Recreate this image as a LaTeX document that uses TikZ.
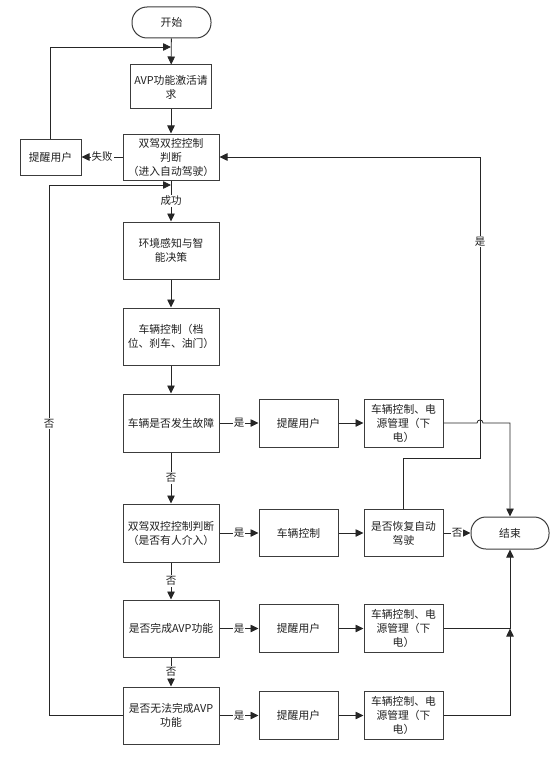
\documentclass[tikz,border=0pt]{standalone}
\usepackage{fontspec}
\setmainfont{Noto Sans CJK SC}
\usetikzlibrary{arrows.meta}
\definecolor{ln}{HTML}{262626}
\definecolor{tx}{HTML}{202020}
\tikzset{
  box/.style={draw=ln!90, line width=1pt, inner sep=1pt, align=center, text=tx,
    font=\fontsize{10.8}{14}\selectfont},
  term/.style={box, rounded corners=15pt},
  arr/.style={draw=ln, line width=0.8pt, -{Triangle[length=8pt,width=7.5pt]}},
  lab/.style={fill=white, inner sep=1pt, text=tx, font=\fontsize{10.5}{12}\selectfont}
}
\begin{document}
\begin{tikzpicture}[x=1pt,y=-1pt]
\useasboundingbox (0,0) rectangle (558,757);
% main column
\node[term, minimum width=79pt, minimum height=31pt] (start) at (171.5,22.5) {开始};
\node[box, minimum width=81pt, minimum height=44pt] (avp) at (171,87) {AVP功能激活请\\求};
\node[box, minimum width=96pt, minimum height=46pt] (judge) at (171,157) {双驾双控控制\\判断\\（进入自动驾驶）};
\node[box, minimum width=61pt, minimum height=36pt] (rem0) at (50.5,157) {提醒用户};
\node[box, minimum width=96pt, minimum height=57pt] (env) at (171,250.5) {环境感知与智\\能决策};
\node[box, minimum width=96pt, minimum height=57pt] (vc) at (171,336.5) {车辆控制（档\\位、刹车、油门）};
\node[box, minimum width=96pt, minimum height=58pt] (q1) at (171,423) {车辆是否发生故障};
\node[box, minimum width=96pt, minimum height=58pt] (q2) at (171,533) {双驾双控控制判断\\（是否有人介入）};
\node[box, minimum width=96pt, minimum height=57pt] (q3) at (171,628.5) {是否完成AVP功能};
\node[box, minimum width=96pt, minimum height=57pt] (q4) at (171,715.5) {是否无法完成AVP\\功能};
% second column
\node[box, minimum width=79pt, minimum height=48pt] (r1) at (298.5,423) {提醒用户};
\node[box, minimum width=79pt, minimum height=47pt] (r2) at (298.5,533) {车辆控制};
\node[box, minimum width=79pt, minimum height=48pt] (r3) at (298.5,628.5) {提醒用户};
\node[box, minimum width=79pt, minimum height=48pt] (r4) at (298.5,715.5) {提醒用户};
% third column
\node[box, minimum width=79pt, minimum height=48pt] (p1) at (403.5,423) {车辆控制、电\\源管理（下\\电）};
\node[box, minimum width=79pt, minimum height=47pt] (rec) at (403.5,533) {是否恢复自动\\驾驶};
\node[box, minimum width=79pt, minimum height=48pt] (p3) at (403.5,628.5) {车辆控制、电\\源管理（下\\电）};
\node[box, minimum width=79pt, minimum height=48pt] (p4) at (403.5,715.5) {车辆控制、电\\源管理（下\\电）};
% end
\node[term, minimum width=78pt, minimum height=32pt] (end) at (510,533) {结束};

\coordinate (j3) at (510,628.5);
\coordinate (topin) at (171,47);
\coordinate (leftin) at (171,185);

% main vertical arrows
\draw[arr] (start) -- (avp);
\draw[arr] (avp) -- (judge);
\draw[arr] (judge) -- node[lab]{成功} (env);
\draw[arr] (env) -- (vc);
\draw[arr] (vc) -- (q1);
\draw[arr] (q1) -- node[lab]{否} (q2);
\draw[arr] (q2) -- node[lab]{否} (q3);
\draw[arr] (q3) -- node[lab]{否} (q4);
% failure loop
\draw[arr] (judge.west) -- node[lab]{失败} (rem0.east);
\draw[arr] (rem0.north) |- (topin);
% rows
\draw[arr] (q1) -- node[lab]{是} (r1);
\draw[arr] (r1) -- (p1);
\draw[arr] (q2) -- node[lab]{是} (r2);
\draw[arr] (r2) -- (rec);
\draw[arr] (rec) -- node[lab]{否} (end);
\draw[arr] (q3) -- node[lab]{是} (r3);
\draw[arr] (r3) -- (p3);
\draw[arr] (q4) -- node[lab]{是} (r4);
\draw[arr] (r4) -- (p4);
% resume loop
\draw[arr] (rec.north) -- (403.5,458) -- (480,458) -- node[lab, pos=0.72]{是} (480,157) -- (judge.east);
% row1 to end with hop
\draw[arr] (p1.east) -- (477,423) .. controls (477,419) and (483,419) .. (483,423) -- (510,423) -- (end.north);
% rows 3/4 to end
\draw[arr] (p3.east) -- (j3) -- (end.south);
\draw[arr] (p4.east) -- (510,715.5) -- (j3);
% no loop on left
\draw[arr] (q4.west) -- (49,715.5) -- node[lab, pos=0.55]{否} (49,185) -- (leftin);
\end{tikzpicture}
\end{document}
